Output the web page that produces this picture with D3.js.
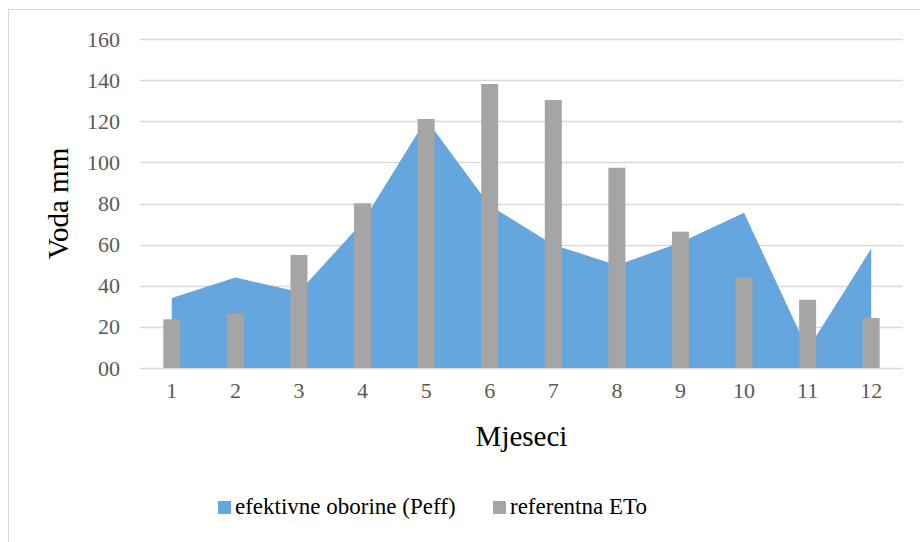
<!DOCTYPE html>
<html>
<head>
<meta charset="utf-8">
<script src="https://cdn.jsdelivr.net/npm/d3@7"></script>
<style>
  html, body { margin: 0; padding: 0; background: #ffffff; }
  svg { display: block; }
</style>
</head>
<body>
<svg id="chart" width="920" height="542"></svg>
<script>
const months = ["1","2","3","4","5","6","7","8","9","10","11","12"];
const peff = [34, 44, 37, 71, 121, 79, 60, 50, 61, 75.5, 9, 58];
const eto = [23.7, 26.3, 55, 80.1, 121.1, 138.1, 130.3, 97.4, 66.3, 43.9, 33.2, 24.3];
const yTicks = [0, 20, 40, 60, 80, 100, 120, 140, 160];
const yTickLabels = ["00", "20", "40", "60", "80", "100", "120", "140", "160"];
const seriesNames = ["efektivne oborine (Peff)", "referentna ETo"];
const colors = ["#65a6df", "#a5a5a5"];

const svg = d3.select("#chart");
const font = "'Liberation Serif', 'Times New Roman', serif";

// chart border
svg.append("rect")
  .attr("x", 8.5).attr("y", 9.5)
  .attr("width", 930).attr("height", 560)
  .attr("fill", "none").attr("stroke", "#d9d9d9").attr("stroke-width", 1);

const plot = { left: 140, right: 903, top: 39, bottom: 368 };

const x = d3.scaleBand().domain(months).range([plot.left, plot.right]).paddingInner(0).paddingOuter(0);
const xBar = d3.scaleBand().domain(months).range([plot.left, plot.right]).paddingInner(0.733).paddingOuter(0.3665);
const y = d3.scaleLinear().domain([0, 160]).range([plot.bottom, plot.top]);

// gridlines
svg.append("g").selectAll("line").data(yTicks).join("line")
  .attr("x1", plot.left).attr("x2", plot.right)
  .attr("y1", d => Math.round(y(d)) + 0.5).attr("y2", d => Math.round(y(d)) + 0.5)
  .attr("stroke", "#d9d9d9").attr("stroke-width", 1.3);

// area
const area = d3.area()
  .x((d, i) => x(months[i]) + x.bandwidth() / 2)
  .y0(y(0))
  .y1(d => y(d));
svg.append("path").datum(peff)
  .attr("d", area)
  .attr("fill", colors[0]);

// bars
svg.append("g").selectAll("rect").data(eto).join("rect")
  .attr("x", (d, i) => xBar(months[i]))
  .attr("width", xBar.bandwidth())
  .attr("y", d => y(d))
  .attr("height", d => y(0) - y(d))
  .attr("fill", colors[1]);

// y axis labels
const yAxis = d3.axisLeft(y).tickValues(yTicks).tickFormat((d, i) => yTickLabels[i]).tickSize(0).tickPadding(20);
const gy = svg.append("g").attr("transform", `translate(${plot.left},0)`).call(yAxis);
gy.select(".domain").remove();
gy.selectAll("text").attr("font-family", font).attr("font-size", 22).attr("fill", "#595959");

// x axis labels
const xAxis = d3.axisBottom(x).tickSize(0).tickPadding(14);
const gx = svg.append("g").attr("transform", `translate(0,${plot.bottom})`).call(xAxis);
gx.select(".domain").remove();
gx.selectAll("text").attr("font-family", font).attr("font-size", 22).attr("fill", "#595959");

// axis titles
svg.append("text")
  .attr("transform", `translate(68,${(plot.top + plot.bottom) / 2}) rotate(-90)`)
  .attr("text-anchor", "middle")
  .attr("font-family", font).attr("font-size", 29).attr("fill", "#000")
  .text("Voda mm");

svg.append("text")
  .attr("x", (plot.left + plot.right) / 2).attr("y", 446)
  .attr("text-anchor", "middle")
  .attr("font-family", font).attr("font-size", 29).attr("fill", "#000")
  .text("Mjeseci");

// legend
const legendX = [218, 493];
const lg = svg.append("g").selectAll("g").data(seriesNames).join("g")
  .attr("transform", (d, i) => `translate(${legendX[i]},0)`);
lg.append("rect").attr("x", 0).attr("y", 501).attr("width", 13).attr("height", 13)
  .attr("fill", (d, i) => colors[i]);
lg.append("text").attr("x", 17).attr("y", 514)
  .attr("font-family", font).attr("font-size", 23).attr("fill", "#000")
  .text(d => d);
</script>
</body>
</html>
